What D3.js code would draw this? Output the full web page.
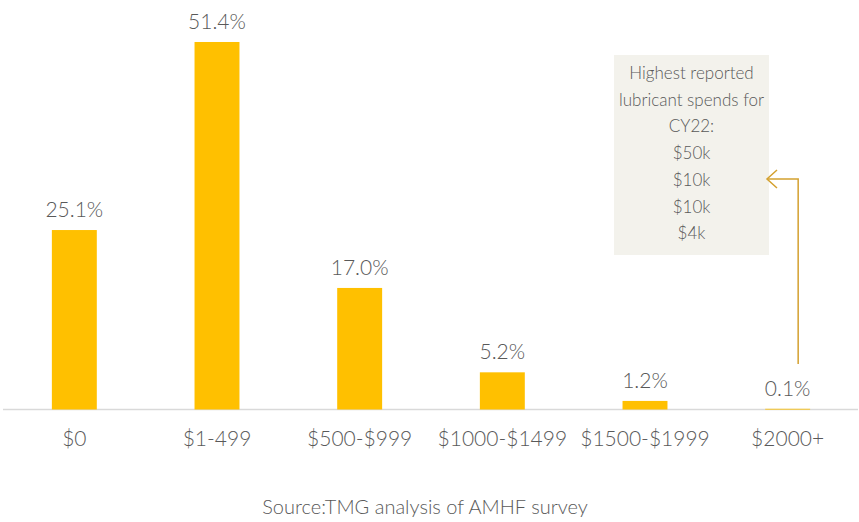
<!DOCTYPE html>
<html>
<head>
<meta charset="utf-8">
<script src="https://cdn.jsdelivr.net/npm/d3@7"></script>
<style>
  html, body { margin: 0; padding: 0; background: #fff; }
  svg { display: block; font-family: Lato, "Open Sans", sans-serif; font-weight: 300; }
</style>
</head>
<body>
<svg id="chart" width="859" height="522"></svg>
<script>
const categories = ["$0", "$1-499", "$500-$999", "$1000-$1499", "$1500-$1999", "$2000+"];
const values = [25.1, 51.4, 17.0, 5.2, 1.2, 0.1];
const valueLabels = ["25.1%", "51.4%", "17.0%", "5.2%", "1.2%", "0.1%"];
const noteLines = ["Highest reported", "lubricant spends for", "CY22:", "$50k", "$10k", "$10k", "$4k"];
const sourceText = "Source:TMG analysis of AMHF survey";

const W = 859, H = 522;
const baseY = 409.5;
const svg = d3.select("#chart");
const textColor = "#595959";

const x = d3.scaleBand().domain(categories).range([3, 859]).paddingInner(0.685).paddingOuter(0.3425);
const y = d3.scaleLinear().domain([0, 55]).range([baseY, baseY - 55 * 7.15]);

// axis line
svg.append("line")
  .attr("x1", 3).attr("x2", 858)
  .attr("y1", baseY).attr("y2", baseY)
  .attr("stroke", "#d9d9d9").attr("stroke-width", 1.5);

// bars
svg.selectAll("rect.bar").data(values).enter().append("rect")
  .attr("class", "bar")
  .attr("x", (d, i) => x(categories[i]))
  .attr("width", x.bandwidth())
  .attr("y", d => y(d))
  .attr("height", d => Math.max(baseY - y(d), 0.8))
  .attr("fill", "#FFC000");

// value labels
svg.selectAll("text.val").data(values).enter().append("text")
  .attr("class", "val")
  .attr("x", (d, i) => x(categories[i]) + x.bandwidth() / 2)
  .attr("y", d => y(d) - 13)
  .attr("text-anchor", "middle")
  .attr("font-size", 21)
  .attr("fill", textColor)
  .text((d, i) => valueLabels[i]);

// category axis
const xAxis = d3.axisBottom(x).tickSize(0).tickPadding(0);
const gx = svg.append("g").attr("transform", `translate(0,${baseY})`).call(xAxis);
gx.select(".domain").remove();
gx.selectAll("text")
  .attr("dy", null)
  .attr("y", 36)
  .attr("font-size", 21)
  .attr("font-family", "Lato, 'Open Sans', sans-serif")
  .attr("fill", textColor);

// source
svg.append("text")
  .attr("x", 425).attr("y", 514)
  .attr("text-anchor", "middle")
  .attr("font-size", 20)
  .attr("fill", textColor)
  .text(sourceText);

// annotation box
svg.append("rect")
  .attr("x", 614).attr("y", 55).attr("width", 155).attr("height", 200)
  .attr("fill", "#f3f2ec");
svg.selectAll("text.note").data(noteLines).enter().append("text")
  .attr("class", "note")
  .attr("x", 691.5)
  .attr("y", (d, i) => 79 + i * 26.7)
  .attr("text-anchor", "middle")
  .attr("font-size", 17)
  .attr("fill", textColor)
  .text(d => d);

// arrow
const gold = "#d4a12f";
const ax = x("$2000+") + x.bandwidth() / 2 + 10.5;
svg.append("path")
  .attr("d", `M${ax},364 V179 H767`)
  .attr("fill", "none").attr("stroke", gold).attr("stroke-width", 1.5);
svg.append("path")
  .attr("d", "M777,170 L767,179 L777,188")
  .attr("fill", "none").attr("stroke", gold).attr("stroke-width", 1.5);
</script>
</body>
</html>
